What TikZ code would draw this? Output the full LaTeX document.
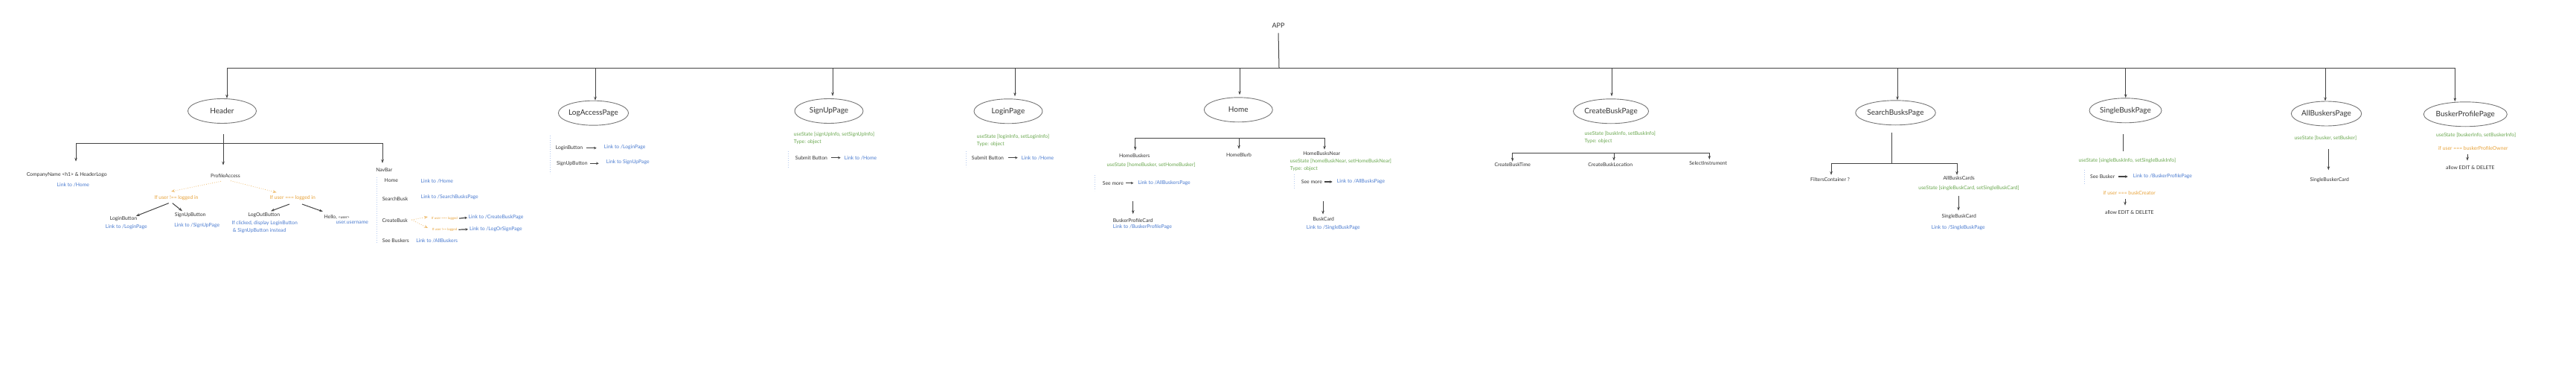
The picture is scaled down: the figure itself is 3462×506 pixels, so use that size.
\documentclass[tikz,border=0pt]{standalone}
\usepackage{fontspec}
\setmainfont{Lato}
\usetikzlibrary{arrows.meta,shapes.geometric}
\definecolor{txt}{HTML}{333333}
\definecolor{grn}{HTML}{6AA84F}
\definecolor{blu}{HTML}{4A7BD0}
\definecolor{org}{HTML}{E8A33A}
\definecolor{dblu}{HTML}{B4C9EF}
\definecolor{lin}{HTML}{444444}
\definecolor{ell}{HTML}{777777}
\newcommand\myfs[1]{\fontsize{#1}{#1}\selectfont}
\tikzset{
  pg/.style={ellipse, draw=ell, line width=0.9pt, minimum width=92pt, minimum height=33pt, inner sep=0pt, font=\myfs{10}, text=txt},
  tx/.style={inner sep=0pt, font=\myfs{6.8}, text=txt},
  gr/.style={tx, text=grn},
  bl/.style={tx, text=blu},
  og/.style={tx, text=org},
  tiny/.style={inner sep=0pt, font=\myfs{4.4}, text=org},
  ln/.style={draw=lin, line width=1pt},
  arr/.style={draw=lin, line width=1pt, -{Stealth[length=5pt,width=3.5pt]}},
  sarr/.style={draw=lin, line width=1.2pt, -{Stealth[length=3.5pt,width=3.5pt]}},
  dotv/.style={draw=dblu, dotted, line width=1pt},
  odot/.style={draw=org!70, dotted, line width=0.8pt, -{Stealth[open,length=5pt,width=4pt]}},
}
\begin{document}
\begin{tikzpicture}[x=1pt,y=-1pt]
\useasboundingbox[fill=white] (0,0) rectangle (3462,506);
% ---------- top ----------
\node[tx, font=\myfs{9}] (app) at (1718,34) {APP};
\coordinate (appbar) at (1719,91);
\coordinate (barL) at (305,91);
\coordinate (barR) at (3299.3,91);
\draw[ln] ([yshift=-7pt]app.south) -- (appbar);
\draw[ln] (barL) -- (barR);
% ---------- pages ----------
\node[pg] (header) at (298.5,149) {Header};
\node[pg] (logaccess) at (797.5,151.7) {LogAccessPage};
\node[pg] (signup) at (1114,149) {SignUpPage};
\node[pg] (login) at (1355,149.3) {LoginPage};
\node[pg] (home) at (1664.3,147.3) {Home};
\node[pg] (createbusk) at (2165,149.3) {CreateBuskPage};
\node[pg] (search) at (2547.5,151.3) {SearchBusksPage};
\node[pg] (singlebusk) at (2856.5,148.3) {SingleBuskPage};
\node[pg] (allbuskers) at (3126.5,152.5) {AllBuskersPage};
\node[pg] (buskerprofile) at (3313.3,153.3) {BuskerProfilePage};
\coordinate (b1) at (305,91);
\coordinate (b2) at (800,91);
\coordinate (b3) at (1119,91);
\coordinate (b4) at (1364,91);
\coordinate (b5) at (1666,91);
\coordinate (b6) at (2166,91);
\coordinate (b7) at (2550,91);
\coordinate (b8) at (2856.7,91);
\coordinate (b9) at (3125,91);
\coordinate (b10) at (3299.3,91);
\draw[arr] (b1) -- (b1 |- header.north);
\draw[arr] (b2) -- (b2 |- logaccess.north);
\draw[arr] (b3) -- ([yshift=3pt]b3 |- signup.north);
\draw[arr] (b4) -- ([yshift=3pt]b4 |- login.north);
\draw[arr] (b5) -- ([yshift=3pt]b5 |- home.north);
\draw[arr] (b6) -- ([yshift=3pt]b6 |- createbusk.north);
\draw[arr] (b7) -- (b7 |- search.north);
\draw[arr] (b8) -- (b8 |- singlebusk.north);
\draw[arr] (b9) -- (b9 |- allbuskers.north);
\draw[arr] (b10) -- (b10 |- buskerprofile.north);
% ---------- Header ----------
\coordinate (hs) at (300,180);
\coordinate (hj) at (300,192.3);
\coordinate (hL) at (102,192.3);
\coordinate (hR) at (514,192.3);
\coordinate (hLt) at (102,216.7);
\coordinate (hJt) at (300,221.7);
\coordinate (hRt) at (514,219);
\draw[ln] (hs) -- (hj);
\draw[ln] (hL) -- (hR);
\draw[arr] (hL) -- (hLt);
\draw[arr] (hj) -- (hJt);
\draw[arr] (hR) -- (hRt);
\node[tx] (company) at (89.7,234.7) {CompanyName <h1> \& HeaderLogo};
\node[bl] (companylink) at (98.3,247.7) {Link to /Home};
\node[tx] (profile) at (303,235.7) {ProfileAccess};
\node[og] (ifnot) at (237,265.7) {If user !== logged in};
\node[og] (ifyes) at (393.3,265.7) {If user === logged in};
\coordinate (pa1) at (297,243.3);
\coordinate (pa2) at (310,242.7);
\coordinate (ifnotT) at (230,257);
\coordinate (ifyesT) at (371.7,258.3);
\draw[odot] (pa1) -- (ifnotT);
\draw[odot] (pa2) -- (ifyesT);
\node[tx] (loginbtn) at (166,293.7) {LoginButton};
\node[bl] (loginbtnlink) at (169.8,304.7) {Link to /LoginPage};
\node[tx] (signupbtn) at (255.7,288.7) {SignUpButton};
\node[bl] (signupbtnlink) at (264.7,302.7) {Link to /SignUpPage};
\coordinate (in1) at (226.7,272.7);
\coordinate (in2) at (231.7,272.7);
\coordinate (in1t) at (182.7,290);
\coordinate (in2t) at (245,283.3);
\draw[arr] (in1) -- (in1t);
\draw[arr] (in2) -- (in2t);
\node[tx] (logout) at (354.8,288.7) {LogOutButton};
\node[bl, anchor=west] (logoutl1) at (311.3,300) {If clicked, display LoginButton};
\node[bl, anchor=west] (logoutl2) at (312.7,309.7) {\& SignUpButton instead};
\node[tx] (hello) at (452.7,291.7) {Hello, {\myfs{5}<user>}};
\node[bl] (username) at (473.3,299) {user.username};
\coordinate (iy1) at (389,274);
\coordinate (iy2) at (406,274);
\coordinate (iy1t) at (364,283.3);
\coordinate (iy2t) at (434,284);
\draw[arr] (iy1) -- (iy1t);
\draw[arr] (iy2) -- (iy2t);
% NavBar
\node[tx] (navbar) at (516.3,227.7) {NavBar};
\coordinate (nv1) at (506.7,238.3);
\coordinate (nv2) at (506.7,326.7);
\draw[dotv] (nv1) -- (nv2);
\node[tx] (navhome) at (525.8,241.7) {Home};
\node[bl] (navhomel) at (587.3,242.7) {Link to /Home};
\node[tx] (navsearch) at (531,266.7) {SearchBusk};
\node[bl] (navsearchl) at (604.3,264.7) {Link to /SearchBusksPage};
\node[tx] (navcreate) at (530.7,295.7) {CreateBusk};
\node[tx] (navsee) at (531.8,323.3) {See Buskers};
\node[bl] (navseel) at (587.2,323.3) {Link to /AllBuskers};
\coordinate (cb0) at (553.3,295);
\coordinate (cb1) at (575,291);
\coordinate (cb2) at (575,306);
\draw[odot] (cb0) -- (cb1);
\draw[odot] (cb0) -- (cb2);
\node[tiny] (cbyes) at (597.5,293.3) {If user === logged};
\node[tiny] (cbno) at (597.5,308.3) {If user !== logged};
\node[bl, anchor=west] (cbyesl) at (629.5,292) {Link to /CreateBuskPage};
\node[bl, anchor=west] (cbnol) at (631,307.7) {Link to /LogOrSignPage};
\draw[sarr, shorten <=2pt, shorten >=1.5pt] (cbyes.east) -- (cbyesl.west);
\draw[sarr, shorten <=2pt, shorten >=2pt] (cbno.east) -- (cbnol.west);
% ---------- LogAccessPage ----------
\coordinate (la1) at (739.3,181.7);
\coordinate (la2) at (739.3,232.7);
\draw[dotv] (la1) -- (la2);
\node[tx] (labtn1) at (765,198.7) {LoginButton};
\node[bl, anchor=west] (labtn1l) at (811.7,197.7) {Link to /LoginPage};
\node[tx] (labtn2) at (768.8,219.3) {SignUpButton};
\node[bl, anchor=west] (labtn2l) at (814.7,217.7) {Link to SignUpPage};
\draw[sarr, shorten <=5pt, shorten >=10pt] (labtn1.east) -- (labtn1l.west |- labtn1.east);
\draw[sarr, shorten <=3pt, shorten >=10pt] (labtn2.east) -- (labtn2l.west |- labtn2.east);
% ---------- SignUpPage ----------
\node[gr, anchor=west] (suus) at (1066.7,180.3) {useState [signUpInfo, setSignUpInfo]};
\node[gr, anchor=west] (sutype) at (1066.7,190.7) {Type: object};
\coordinate (su1) at (1059,203);
\coordinate (su2) at (1059,225);
\draw[dotv] (su1) -- (su2);
\node[tx, anchor=west] (susub) at (1068.7,211.7) {Submit Button};
\node[bl, anchor=west] (susubl) at (1134.7,212) {Link to /Home};
\draw[sarr, shorten <=5pt, shorten >=5pt] (susub.east) -- (susubl.west |- susub.east);
% ---------- LoginPage ----------
\node[gr, anchor=west] (lius) at (1312.7,183.3) {useState [loginInfo, setLoginInfo]};
\node[gr, anchor=west] (litype) at (1312.7,193.7) {Type: object};
\coordinate (li1) at (1298,203.3);
\coordinate (li2) at (1298,224.3);
\draw[dotv] (li1) -- (li2);
\node[tx, anchor=west] (lisub) at (1305.7,211.7) {Submit Button};
\node[bl, anchor=west] (lisubl) at (1372.7,211.7) {Link to /Home};
\draw[sarr, shorten <=6pt, shorten >=5pt] (lisub.east) -- (lisubl.west);
% ---------- Home ----------
\coordinate (hoL) at (1525.7,185);
\coordinate (hoM) at (1665,185);
\coordinate (hoR) at (1780,185);
\coordinate (hoLt) at (1525.7,201.7);
\coordinate (hoMt) at (1665,200);
\coordinate (hoRt) at (1780,200.7);
\draw[ln] (hoL) -- (hoR);
\draw[arr] (hoL) -- (hoLt);
\draw[arr] (hoM) -- (hoMt);
\draw[arr] (hoR) -- (hoRt);
\node[tx] (homebuskers) at (1524.7,208.7) {HomeBuskers};
\node[gr] (hbus) at (1547,221.7) {useState [homeBusker, setHomeBusker]};
\coordinate (hb1) at (1471.7,235);
\coordinate (hb2) at (1471.7,256);
\draw[dotv] (hb1) -- (hb2);
\node[tx, anchor=west] (hbsee) at (1481.7,245.7) {See more};
\node[bl, anchor=west] (hbseel) at (1529.3,245.7) {Link to /AllBuskersPage};
\draw[sarr, shorten <=3pt, shorten >=6pt] (hbsee.east) -- (hbseel.west);
\coordinate (hba) at (1522.7,270);
\coordinate (hbat) at (1522.7,287.3);
\draw[arr] (hba) -- (hbat);
\node[tx, anchor=west] (bpcard) at (1495.7,295.7) {BuskerProfileCard};
\node[bl, anchor=west] (bpcardl) at (1495.7,304.7) {Link to /BuskerProfilePage};
\node[tx] (homeblurb) at (1665,207.7) {HomeBlurb};
\node[tx] (homebn) at (1776.2,205.7) {HomeBusksNear};
\node[gr, anchor=west] (hnus) at (1733.7,216.7) {useState [homeBuskNear, setHomeBuskNear]};
\node[gr, anchor=west] (hntype) at (1733.7,226.7) {Type: object};
\coordinate (hn1) at (1739,234);
\coordinate (hn2) at (1739,253.3);
\draw[dotv] (hn1) -- (hn2);
\node[tx, anchor=west] (hnsee) at (1748.7,244) {See more};
\node[bl, anchor=west] (hnseel) at (1796.7,243.7) {Link to /AllBusksPage};
\draw[sarr, shorten <=3pt, shorten >=6pt] (hnsee.east) -- (hnseel.west |- hnsee.east);
\coordinate (hna) at (1778,270);
\coordinate (hnat) at (1778,287.7);
\draw[arr] (hna) -- (hnat);
\node[tx] (buskcard) at (1778.8,294.3) {BuskCard};
\node[bl] (buskcardl) at (1791.8,305.7) {Link to /SingleBuskPage};
% ---------- CreateBuskPage ----------
\node[gr, anchor=west] (cbus) at (2129.3,179.7) {useState [buskInfo, setBuskInfo]};
\node[gr, anchor=west] (cbtype) at (2129.3,189.7) {Type: object};
\coordinate (cL) at (2032.7,205);
\coordinate (cM) at (2169,205);
\coordinate (cR) at (2297.3,205);
\coordinate (cLt) at (2032.7,216.7);
\coordinate (cMt) at (2169,215.7);
\coordinate (cRt) at (2297.3,214);
\draw[ln] (cL) -- (cR);
\draw[arr] (cL) -- (cLt);
\draw[arr] (cM) -- (cMt);
\draw[arr] (cR) -- (cRt);
\node[tx] (cbtime) at (2032.7,221.2) {CreateBuskTime};
\node[tx] (cbloc) at (2164.2,221.2) {CreateBuskLocation};
\node[tx] (cbinst) at (2295.7,219.2) {SelectInstrument};
% ---------- SearchBusksPage ----------
\coordinate (sv1) at (2542.3,178.3);
\coordinate (sv2) at (2542.3,219.3);
\coordinate (sL) at (2461,219.3);
\coordinate (sR) at (2630,219.3);
\coordinate (sLt) at (2461,235);
\coordinate (sRt) at (2630,235);
\draw[ln] (sv1) -- (sv2);
\draw[ln] (sL) -- (sR);
\draw[arr] (sL) -- (sLt);
\draw[arr] (sR) -- (sRt);
\node[tx] (filters) at (2459.5,240.7) {FiltersContainer ?};
\node[tx] (allbc) at (2632.7,239.3) {AllBusksCards};
\node[gr] (allbcus) at (2646,253) {useState [singleBuskCard, setSingleBuskCard]};
\coordinate (sa) at (2632,262.7);
\coordinate (sat) at (2632,282.7);
\draw[arr] (sa) -- (sat);
\node[tx] (sbcard) at (2632.7,291) {SingleBuskCard};
\node[bl] (sbcardl) at (2631.8,305.7) {Link to /SingleBuskPage};
% ---------- SingleBuskPage ----------
\coordinate (sg1) at (2853,180);
\coordinate (sg2) at (2853,202.7);
\draw[ln] (sg1) -- (sg2);
\node[gr] (sgus) at (2858.8,215.7) {useState [singleBuskInfo, setSingleBuskInfo]};
\coordinate (sgd1) at (2801,227.7);
\coordinate (sgd2) at (2801,247.7);
\draw[dotv] (sgd1) -- (sgd2);
\node[tx, anchor=west] (sgsee) at (2809,237) {See Busker};
\node[bl, anchor=west] (sgseel) at (2866.7,236.7) {Link to /BuskerProfilePage};
\draw[sarr, shorten <=5pt, shorten >=7pt] (sgsee.east) -- (sgseel.west |- sgsee.east);
\node[og] (sgif) at (2861.7,259.3) {if user === buskCreator};
\coordinate (sga) at (2856,267.3);
\coordinate (sgat) at (2856,275.7);
\draw[arr] (sga) -- (sgat);
\node[tx] (sgallow) at (2861.8,285.3) {allow EDIT \& DELETE};
% ---------- AllBuskersPage ----------
\node[gr] (abus) at (3125.3,185.7) {useState [busker, setBusker]};
\coordinate (aba) at (3129.3,200);
\coordinate (abat) at (3129.3,228.3);
\draw[arr] (aba) -- (abat);
\node[tx] (sbkcard) at (3130.8,241.7) {SingleBuskerCard};
% ---------- BuskerProfilePage ----------
\node[gr] (bpus) at (3327.5,181.7) {useState [buskerInfo, setBuskerInfo]};
\node[og] (bpif) at (3323.8,198.7) {if user === buskerProfileOwner};
\coordinate (bpa) at (3316,206.7);
\coordinate (bpat) at (3316,215.7);
\draw[arr] (bpa) -- (bpat);
\node[tx] (bpallow) at (3319.8,224.7) {allow EDIT \& DELETE};
\end{tikzpicture}
\end{document}
